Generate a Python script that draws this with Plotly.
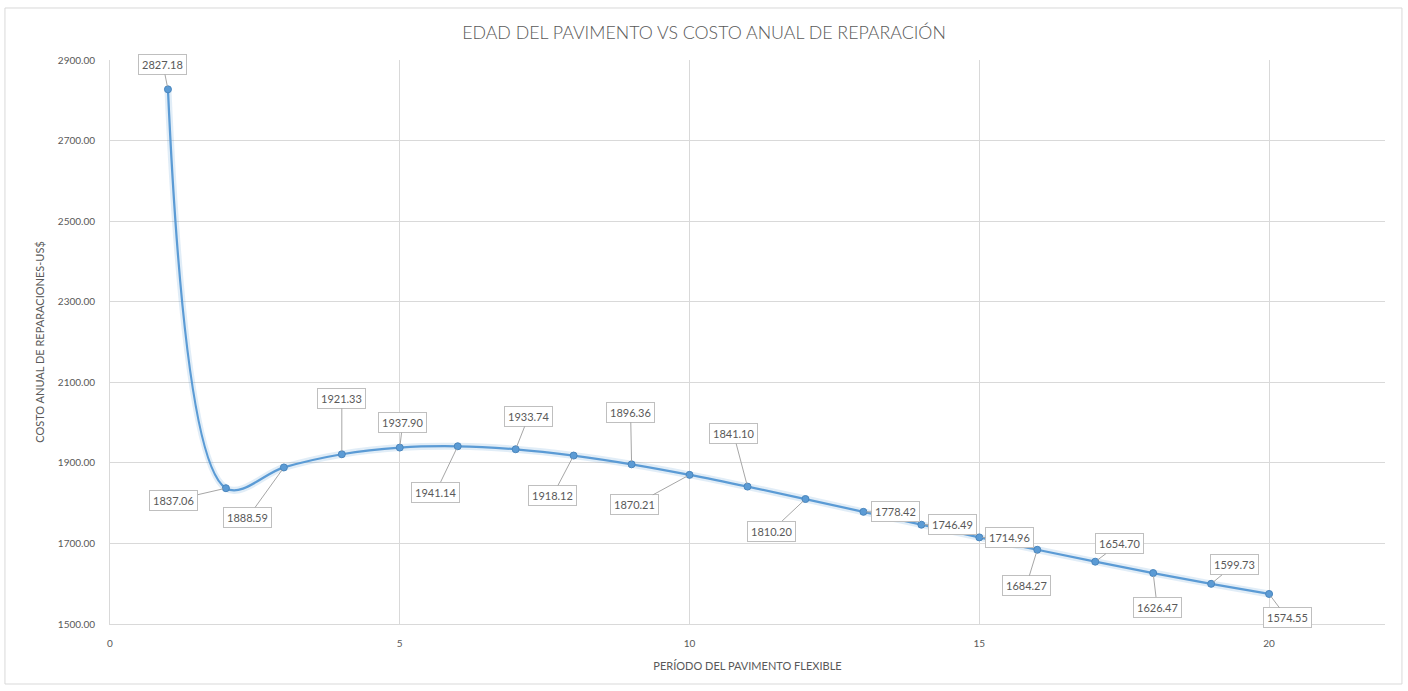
import plotly.graph_objects as go

periodo = list(range(1, 21))
costo = [2827.18, 1837.06, 1888.59, 1921.33, 1937.90, 1941.14, 1933.74, 1918.12,
         1896.36, 1870.21, 1841.10, 1810.20, 1778.42, 1746.49, 1714.96, 1684.27,
         1654.70, 1626.47, 1599.73, 1574.55]
# label offsets (pixels) of each data label relative to its point
label_dx = [-5, -52, -36, 0, 3, -22, 13, -21, -1, -55, -14, -34, 32, 31, 30, -11, 24, 4, 23, 18]
label_dy = [-25, 12, 50, -56, -25, 46, -33, 40, -52, 30, -53, 32, 0, 0, 0, 36, -18, 34, -19, 24]

title_text = "EDAD DEL PAVIMENTO VS COSTO ANUAL DE REPARACIÓN"
x_title = "PERÍODO DEL PAVIMENTO FLEXIBLE"
y_title = "COSTO ANUAL DE REPARACIONES-US$"

FONT = "Lato, 'Open Sans', sans-serif"
GREY = "#595959"
BLUE = "#5b9bd5"

fig = go.Figure()
fig.add_trace(go.Scatter(x=periodo, y=costo, mode="lines",
                         line=dict(color="rgba(91,155,213,0.18)", width=7, shape="spline", smoothing=1),
                         hoverinfo="skip", showlegend=False))
fig.add_trace(go.Scatter(x=periodo, y=costo, mode="lines+markers",
                         line=dict(color=BLUE, width=2.25, shape="spline", smoothing=1),
                         marker=dict(color=BLUE, size=7, line=dict(color="#4a86bd", width=1)),
                         showlegend=False))

for xv, yv, dx, dy in zip(periodo, costo, label_dx, label_dy):
    fig.add_annotation(x=xv, y=yv, text=f"{yv:.2f}", showarrow=True,
                       ax=dx, ay=dy, axref="pixel", ayref="pixel",
                       arrowhead=0, arrowwidth=1, arrowcolor="#a6a6a6", standoff=3,
                       bgcolor="white", bordercolor="#bfbfbf", borderwidth=1, borderpad=3,
                       font=dict(family=FONT, size=11, color=GREY))

# outer chart frame
fig.add_shape(type="rect", xref="paper", yref="paper",
              x0=-0.0824, x1=1.0133, y0=-0.1064, y1=1.0922,
              line=dict(color="#d9d9d9", width=1), fillcolor="rgba(0,0,0,0)", layer="below")

fig.update_layout(
    width=1408, height=691,
    margin=dict(l=110, r=23, t=60, b=67),
    paper_bgcolor="white", plot_bgcolor="white",
    title=dict(text=title_text, x=0.5, xref="container", y=0.952, yanchor="middle",
               font=dict(family=FONT, size=17.8, color=GREY, weight=300)),
    font=dict(family=FONT, color=GREY),
    xaxis=dict(range=[0, 22], tick0=0, dtick=5, showgrid=True, gridcolor="#d9d9d9",
               zeroline=False, showline=True, linecolor="#d9d9d9", ticks="",
               tickfont=dict(size=10, color=GREY), ticklabelstandoff=10,
               title=dict(text=x_title, font=dict(size=11, color=GREY), standoff=14)),
    yaxis=dict(range=[1500, 2900], tick0=1500, dtick=200, tickformat=".2f",
               showgrid=True, gridcolor="#d9d9d9", zeroline=False,
               showline=True, linecolor="#d9d9d9", ticks="",
               tickfont=dict(size=10, color=GREY), ticklabelstandoff=12,
               title=dict(text=y_title, font=dict(size=11, color=GREY), standoff=10)),
)

fig.write_html("out.html", config={"displayModeBar": False},
               post_script="document.body.style.margin='0';document.body.style.overflow='hidden';")
